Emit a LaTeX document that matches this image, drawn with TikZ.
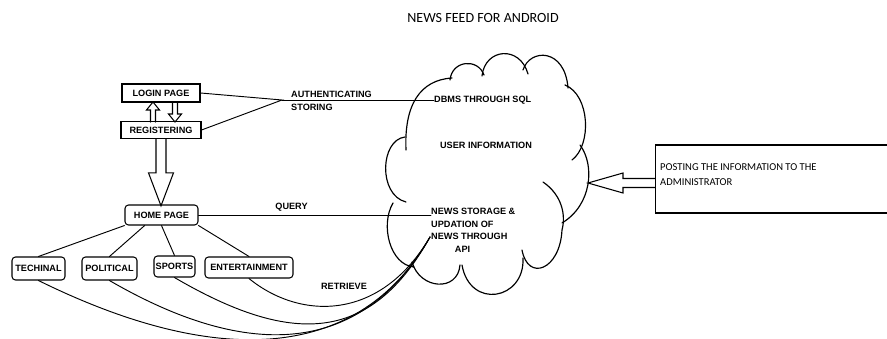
\documentclass[tikz,border=0pt]{standalone}
\usepackage{fontspec}
\setmainfont{Liberation Sans}
\newfontfamily\calfont{Carlito}
\usetikzlibrary{calc}
\tikzset{
  box/.style={draw,line width=0.9pt,inner sep=0pt,font=\fontsize{7.8}{9.5}\selectfont\bfseries},
  rbox/.style={box,rounded corners=3pt},
  link/.style={line width=0.8pt},
  hollow/.style={line width=0.9pt,line join=miter},
  puff/.style={line width=1pt},
  lbl/.style={inner sep=0pt,font=\fontsize{7.8}{10.8}\selectfont\bfseries}
}

\begin{document}
\begin{tikzpicture}[x=0.03cm,y=-0.03cm,line cap=round]
\useasboundingbox (0,0) rectangle (887,339);

\node[font=\calfont\fontsize{12}{14}\selectfont] (title) at (483,18) {NEWS FEED FOR ANDROID};

% login / register
\node[box,minimum width=2.34cm,minimum height=0.54cm] (login) at (161,93) {LOGIN PAGE};
\node[box,minimum width=2.4cm,minimum height=0.5cm] (reg) at (161,130) {REGISTERING};

\begin{scope}[shift={(153,122)}]
  \draw[hollow] (-2.5,0) -- (-2.5,-12) -- (-6.5,-12) -- (0,-20) -- (6.5,-12) -- (2.5,-12) -- (2.5,0);
\end{scope}
\begin{scope}[shift={(175,102)}]
  \draw[hollow] (-2.5,0) -- (-2.5,12) -- (-6.5,12) -- (0,20) -- (6.5,12) -- (2.5,12) -- (2.5,0);
\end{scope}

\node[rbox,minimum width=2.19cm,minimum height=0.6cm] (home) at (161.5,215) {HOME PAGE};

\begin{scope}[shift={(reg.south)}]
  \draw[hollow] (-5,0) -- (-5,34) -- (-12.5,34) -- (0,67) -- (12.5,34) -- (5,34) -- (5,0);
\end{scope}

% categories
\node[rbox,minimum width=1.59cm,minimum height=0.69cm] (tech) at (38.5,268.5) {TECHINAL};
\node[rbox,minimum width=1.65cm,minimum height=0.69cm] (pol) at (109.5,268.5) {POLITICAL};
\node[rbox,minimum width=1.23cm,minimum height=0.63cm] (sport) at (174.5,266.5) {SPORTS};
\node[rbox,minimum width=2.64cm,minimum height=0.63cm] (ent) at (249,267.5) {ENTERTAINMENT};

\draw[link] (home.south west) -- (tech.north);
\draw[link] (home.212) -- (pol.north);
\draw[link] (home.south) -- (sport.north);
\draw[link] (home.south east) -- (ent.north);

% cloud
\draw[puff] (406,150) .. controls (404,105) and (420,80) .. (452,78);
\draw[puff] (450,80) .. controls (452,60) and (478,58) .. (484,75);
\draw[puff] (482,76) .. controls (485,48) and (520,45) .. (528,74);
\draw[puff] (523,70) .. controls (530,48) and (565,48) .. (568,88);
\draw[puff] (565,85) .. controls (590,95) and (592,145) .. (572,160);
\draw[puff] (580,145) .. controls (595,165) and (592,205) .. (562,223);
\draw[puff] (543,182) .. controls (562,195) and (566,215) .. (562,230)
  .. controls (560,270) and (528,282) .. (522,250);
\draw[puff] (523,258) .. controls (525,300) and (470,310) .. (462,265);
\draw[puff] (412,262) .. controls (420,290) and (458,292) .. (460,265);
\draw[puff] (393,203) .. controls (380,225) and (390,265) .. (414,267);
\draw[puff] (405,137) .. controls (380,140) and (378,195) .. (406,202);

\node[lbl,anchor=west] (dbms) at (434,100) {DBMS THROUGH SQL};
\node[lbl] (userinfo) at (486,145) {USER INFORMATION};
\node[lbl,anchor=north west,align=left] (news) at (431,208) {NEWS STORAGE \&\\UPDATION OF\\NEWS THROUGH\\\hspace{2.6em}API};

% authentication
\coordinate (auth) at (282,100);
\draw[link] (login.east) -- (auth) -- (reg.east);
\draw[link] (auth) -- (dbms.west);
\node[lbl,anchor=west] (authl) at (291,94) {AUTHENTICATING};
\node[lbl,anchor=west] (stor) at (291,107) {STORING};

% query / retrieve
\draw[link] (home.east) -- (home.east -| news.west) node[lbl,pos=0.4,above=3pt] (query) {QUERY};

\coordinate (ret) at (430,237);
\draw[link] (tech.south) .. controls (220,370) and (360,360) .. (ret);
\draw[link] (pol.south) .. controls (250,362) and (362,355) .. (ret);
\draw[link] (sport.south) .. controls (290,345) and (370,345) .. (ret);
\draw[link] (ent.south) .. controls (300,320) and (380,322) .. (ret);
\node[lbl] (retl) at (344,286) {RETRIEVE};

% administrator
\node[draw,line width=0.9pt,anchor=west,minimum width=7.8cm,minimum height=2.04cm] (admin) at (655,179) {};
\node[anchor=west,inner sep=0pt,align=left,font=\calfont\fontsize{9}{12.8}\selectfont] (admintxt) at (660,175) {POSTING THE INFORMATION TO THE\\ADMINISTRATOR};
\begin{scope}[shift={($(admin.west)+(0,4)$)}]
  \draw[hollow] (0,-4.5) -- (-32,-4.5) -- (-32,-10) -- (-67,0) -- (-32,10) -- (-32,4.5) -- (0,4.5);
\end{scope}

\end{tikzpicture}
\end{document}
